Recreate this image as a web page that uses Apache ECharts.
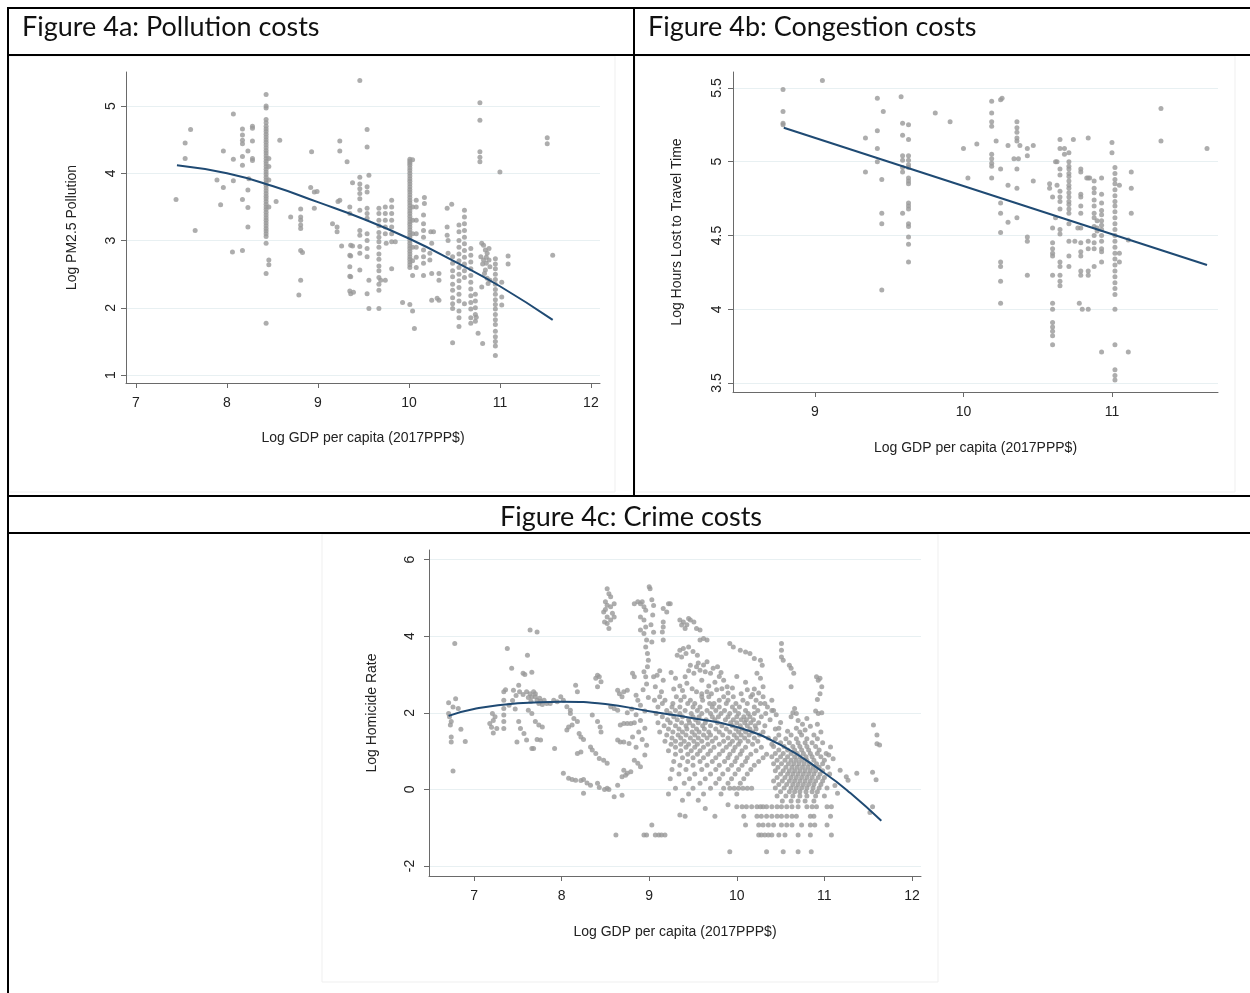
<!DOCTYPE html>
<html>
<head>
<meta charset="utf-8">
<title>Figure 4: Urban costs</title>
<script src="https://cdn.jsdelivr.net/npm/echarts@6.0.0/dist/echarts.min.js"></script>
<style>
  html, body { margin: 0; padding: 0; background: #fff; }
  #chart { width: 1250px; height: 993px; }
</style>
</head>
<body>
<div id="chart"></div>
<script>
// ---- Figure 4a: pollution (columns of cities sharing a GDP value: [x, [y...]]) ----
const pollutionCols = [
  [8.43, [5.17,5.0,4.97,4.8,4.75,4.7,4.66,4.62,4.58,4.54,4.5,4.46,4.42,4.38,4.34,4.3,4.26,4.22,4.18,4.14,4.1,4.06,4.02,3.98,3.94,3.9,3.86,3.82,3.78,3.74,3.7,3.66,3.62,3.58,3.54,3.5,3.46,3.42,3.38,3.34,3.3,3.26,3.22,3.18,3.14,3.1,3.06,2.96,2.51,1.77]],
  [8.46, [4.22,4.1,3.9,3.5,2.71,2.64]],
  [8.17, [4.66,4.57,4.49,4.44,4.25,4.12,3.61,2.85]],
  [8.81, [3.47,3.35,3.3,3.23,3.18,2.85,2.41]],
  [9.35, [3.5,3.4,2.78,2.61,2.47,2.25]],
  [9.46, [3.94,3.84,3.77,3.7,3.62,3.45,3.15,3.08,2.91,2.81,2.56]],
  [9.54, [4.65,4.39,3.8,3.72,3.48,3.4,3.33,3.1,3.0,2.88,2.76,2.21]],
  [9.67, [3.48,3.4,3.3,3.22,3.12,3.05,2.98,2.9,2.8,2.72,2.62,2.55,2.45,2.35,2.26,1.99]],
  [9.74, [3.5,3.4,3.3,3.2,3.1,2.41]],
  [9.81, [3.6,3.5,3.4,3.3,3.2,3.1,2.98,2.58]],
  [10.01, [4.21,4.18,4.15,4.12,4.08,4.04,4.0,3.96,3.92,3.88,3.84,3.8,3.76,3.72,3.68,3.64,3.6,3.56,3.52,3.48,3.44,3.4,3.36,3.32,3.28,3.24,3.2,3.16,3.12,3.08,3.04,3.0,2.96,2.92,2.88,2.84,2.8,2.76,2.72,2.68,2.64,2.6,2.05]],
  [10.04, [4.2,3.5,3.3,3.1,2.9,2.7,2.48,1.95]],
  [10.08, [3.6,3.5,3.3,3.1,2.9,2.75,2.6]],
  [10.16, [3.38,3.25,3.15,3.05,2.86,2.76,2.66,2.48]],
  [10.48, [2.76,2.66,2.55,2.46,2.35,2.26,2.15,2.06,1.99,1.48]],
  [10.55, [3.23,3.13,3.0,2.9,2.8,2.7,2.6,2.5,2.4,2.3,2.2,2.1,1.95,1.85,1.72]],
  [10.61, [3.45,3.35,3.25,3.15,3.05,2.95,2.85,2.75,2.65,2.55,2.45,2.06]],
  [10.68, [2.88,2.78,2.68,2.58,2.48,2.38,2.28,2.18,2.08,1.98,1.85,1.77]],
  [10.73, [2.2,2.1,2.0,1.9,1.8]],
  [10.78, [5.05,4.79,4.32,4.24,4.17]],
  [10.95, [2.73,2.65,2.58,2.5,2.42,2.35,2.27,2.2,2.12,2.05,1.98,1.9,1.82,1.75,1.65,1.57,1.5,1.43,1.29]]
];
const pollutionPts = [
  [7.44,3.61],[7.54,4.45],[7.54,4.22],[7.6,4.65],[7.65,3.15],[7.89,3.9],[7.93,3.53],[7.96,4.33],[7.96,3.79],
  [8.07,4.88],[8.07,4.21],[8.07,3.89],[8.06,2.83],[8.23,4.33],[8.23,3.75],[8.23,3.49],[8.23,3.2],[8.24,3.92],
  [8.28,4.7],[8.28,4.67],[8.28,4.48],[8.28,4.22],[8.28,4.19],[8.58,4.49],[8.54,3.58],[8.7,3.35],[8.83,2.82],
  [8.79,2.19],[8.93,4.32],[8.92,3.79],[8.96,3.72],[8.99,3.73],[8.96,3.48],[9.16,3.25],[9.21,3.2],[9.21,3.13],
  [9.22,3.58],[9.24,3.6],[9.24,4.48],[9.24,4.33],[9.32,4.17],[9.26,2.92],[9.36,2.21],[9.39,2.23],[9.38,3.86],
  [9.38,2.92],[9.46,5.38],[9.36,2.93],[9.36,2.77],[9.36,2.46],[9.56,3.97],[9.56,2.41],[9.56,1.99],[9.69,2.41],
  [9.75,2.96],[9.85,2.98],[9.93,2.08],[10.06,1.69],[10.17,3.64],[10.17,3.55],[10.24,3.13],[10.25,2.96],
  [10.23,2.81],[10.23,2.71],[10.25,2.51],[10.25,2.11],[10.27,3.13],[10.33,2.51],[10.33,2.41],[10.31,2.14],
  [10.33,2.11],[10.42,3.48],[10.47,3.54],[10.42,3.2],[10.42,3.08],[10.43,3.0],[10.43,2.81],[10.76,1.62],
  [10.81,1.47],[10.74,1.86],[10.8,2.96],[10.82,2.93],[10.84,2.86],[10.86,2.81],[10.79,2.76],[10.82,2.71],
  [10.85,2.66],[10.88,2.71],[10.89,2.61],[10.83,2.51],[10.86,2.44],[10.89,2.41],[10.8,2.31],[10.81,2.65],
  [10.85,2.75],[10.88,2.88],[10.84,2.56],[10.87,2.36],[11.0,4.02],[11.02,2.38],[11.02,2.16],[11.02,2.04],
  [11.09,2.77],[11.09,2.65],[11.52,4.53],[11.52,4.44],[11.58,2.78]
];
const pollutionFit = [[7.45,4.12],[8,4.0],[8.5,3.81],[9,3.57],[9.5,3.32],[10,3.03],[10.5,2.69],[11,2.32],[11.58,1.82]];

// ---- Figure 4b: congestion ----
const congestionCols = [
  [8.785, [5.49,5.34,5.26,5.25]],
  [9.42, [5.43,5.21,5.09,5.0]],
  [9.45, [4.88,4.65,4.58,4.13]],
  [9.59, [5.26,5.18,5.04,5.01,4.96,4.93,4.65]],
  [9.63, [5.25,5.15,5.04,5.01,4.98,4.96,4.89,4.87,4.85,4.72,4.7,4.68,4.58,4.56,4.49,4.44,4.32]],
  [10.19, [5.41,5.33,5.27,5.24,5.05,5.02,4.99,4.97,4.89]],
  [10.25, [4.95,4.72,4.65,4.52,4.32,4.29,4.19,4.04]],
  [10.36, [5.27,5.23,5.2,5.16,5.14,4.95,4.82,4.62]],
  [10.6, [4.76,4.55,4.45,4.41,4.38,4.36,4.23,4.04,4.0,3.91,3.88,3.85,3.82,3.76]],
  [10.65, [5.15,5.09,4.95,4.91,4.8,4.76,4.73,4.68,4.54,4.51,4.32,4.29,4.23,4.19,4.16]],
  [10.71, [5.06,5.0,4.97,4.95,4.92,4.9,4.87,4.84,4.82,4.79,4.76,4.73,4.71,4.68,4.65,4.58,4.46,4.36,4.29]],
  [10.79, [4.95,4.93,4.78,4.76,4.7,4.65,4.45,4.39,4.36,4.26,4.23]],
  [10.88, [4.87,4.82,4.79,4.74,4.7,4.65,4.62,4.56,4.5,4.45,4.41,4.29]],
  [10.93, [4.89,4.78,4.72,4.67,4.64,4.6,4.57,4.54,4.5,4.46,4.41,4.39,4.32,3.71]],
  [11.02, [4.96,4.92,4.88,4.85,4.81,4.77,4.73,4.7,4.66,4.62,4.58,4.54,4.5,4.46,4.42,4.38,4.34,4.3,4.26,4.22,4.18,4.14,4.1,4.0,3.76,3.59,3.55,3.52]]
];
const congestionPts = [
  [9.05,5.55],[9.34,5.16],[9.34,4.93],[9.46,5.34],[9.58,5.44],[9.81,5.33],[9.91,5.27],[10.0,5.09],[10.03,4.89],
  [10.09,5.12],[10.25,5.42],[10.26,5.43],[10.22,5.14],[10.3,5.11],[10.3,4.84],[10.3,4.59],[10.34,5.02],
  [10.37,5.02],[10.38,5.11],[10.43,5.09],[10.43,5.04],[10.43,4.49],[10.43,4.46],[10.43,4.23],[10.47,5.11],
  [10.47,4.87],[10.58,4.85],[10.58,4.82],[10.62,5.0],[10.63,5.0],[10.63,4.84],[10.62,4.62],[10.68,5.09],
  [10.68,5.05],[10.74,5.15],[10.75,4.46],[10.77,4.55],[10.79,4.55],[10.78,4.04],[10.8,4.0],[10.84,4.0],
  [10.84,5.16],[10.83,4.89],[10.84,4.89],[10.85,4.89],[10.84,4.46],[10.84,4.41],[10.84,4.26],[10.84,4.23],
  [10.9,4.6],[10.9,4.55],[10.9,4.53],[11.0,5.13],[11.0,5.06],[11.05,4.84],[11.05,4.38],[11.05,4.32],
  [11.11,4.47],[11.11,3.71],[11.13,4.93],[11.13,4.82],[11.13,4.65],[11.33,5.36],[11.33,5.14],[11.64,5.09]
];
const congestionFit = [[8.79,5.23],[11.64,4.30]];

// ---- Figure 4c: crime (rows of cities sharing a homicide value: [y, [x...]]) ----
const crimeRows = [
  [2.42, [9.12,9.31,9.4,9.6,9.68,9.85,9.96,10.16,10.3]],
  [2.33, [9.06,9.18,9.36,9.47,9.61,9.8,9.9,10.07,10.22,10.4]],
  [2.24, [9.15,9.27,9.44,9.52,9.69,9.74,9.88,9.99,10.12,10.27]],
  [2.15, [9.1,9.26,9.35,9.5,9.58,9.72,9.8,9.95,10.03,10.2,10.35]],
  [2.06, [9.2,9.3,9.41,9.55,9.66,9.76,9.86,9.98,10.1,10.24,10.42]],
  [1.98, [9.08,9.24,9.35,9.48,9.6,9.7,9.82,9.92,10.02,10.13,10.2,10.33]],
  [1.9, [9.15,9.28,9.38,9.5,9.57,9.72,9.79,9.9,10.0,10.08,10.15,10.28]],
  [1.82, [9.21,9.32,9.45,9.53,9.65,9.75,9.87,9.96,10.05,10.11,10.19,10.38]],
  [1.74, [9.1,9.24,9.37,9.46,9.56,9.64,9.78,9.93,10.0,10.09,10.16,10.25]],
  [1.66, [9.17,9.3,9.42,9.5,9.61,9.7,9.83,9.95,10.04,10.12,10.21,10.32]],
  [1.58, [9.22,9.34,9.43,9.54,9.63,9.76,9.88,9.99,10.06,10.15,10.22,10.44]],
  [1.5, [9.12,9.27,9.38,9.49,9.57,9.68,9.8,9.92,10.02,10.1,10.18,10.3]],
  [1.42, [9.2,9.33,9.42,9.52,9.62,9.7,9.84,9.97,10.05,10.14,10.26]],
  [1.34, [9.26,9.36,9.47,9.56,9.66,9.76,9.9,10.0,10.09,10.2,10.36]],
  [1.26, [9.18,9.3,9.4,9.51,9.6,9.72,9.85,9.95,10.04,10.13,10.24]],
  [1.18, [9.25,9.36,9.45,9.55,9.67,9.8,9.92,10.02,10.18,10.4]],
  [1.1, [9.3,9.42,9.52,9.62,9.74,9.88,9.98,10.1,10.28]],
  [1.01, [9.22,9.36,9.48,9.58,9.7,9.84,9.96,10.06,10.22]],
  [0.92, [9.3,9.44,9.55,9.67,9.8,9.92,10.04,10.16,10.34]],
  [0.83, [9.38,9.5,9.62,9.76,9.9,10.0,10.12,10.3]],
  [0.73, [9.28,9.44,9.58,9.72,9.86,9.98,10.1,10.25]],
  [0.63, [9.35,9.5,9.66,9.8,9.94,10.06,10.2]],
  [0.52, [9.26,9.42,9.6,9.76,9.9,10.02,10.16]],
  [0.4, [9.34,9.52,9.7,9.84,9.98,10.12]],
  [0.28, [9.24,9.46,9.64,9.8,9.94,10.08]],
  [0.16, [9.4,9.58,9.76,9.9,10.04]],
  [0.03, [9.3,9.5,9.7,9.85,9.92,9.97,10.02,10.07,10.12,10.17]],
  [-0.12, [9.22,9.45,9.62,9.82,10.0]],
  [-0.28, [9.38,9.56]],
  [1.42, [10.48,10.62,10.74,10.88]],
  [1.32, [10.44,10.56,10.68,10.8,10.92]],
  [1.22, [10.5,10.6,10.7,10.78,10.86,10.98]],
  [1.12, [10.42,10.54,10.64,10.72,10.8,10.9]],
  [1.03, [10.48,10.58,10.66,10.74,10.82,10.94]],
  [0.94, [10.44,10.53,10.62,10.69,10.76,10.84,10.92,11.02]],
  [0.85, [10.4,10.5,10.58,10.66,10.72,10.79,10.86,10.96]],
  [0.76, [10.46,10.55,10.62,10.68,10.74,10.8,10.88,11.0]],
  [0.67, [10.42,10.51,10.59,10.65,10.71,10.77,10.83,10.91,10.98]],
  [0.58, [10.47,10.56,10.63,10.69,10.75,10.81,10.87,10.94,11.04]],
  [0.49, [10.44,10.53,10.6,10.66,10.72,10.78,10.84,10.9,10.98]],
  [0.4, [10.5,10.58,10.64,10.7,10.76,10.82,10.88,10.95,11.06]],
  [0.31, [10.46,10.55,10.62,10.68,10.74,10.8,10.86,10.93,11.0]],
  [0.22, [10.42,10.52,10.6,10.66,10.72,10.78,10.84,10.9,10.98]],
  [0.13, [10.48,10.57,10.64,10.7,10.76,10.82,10.88,10.96]],
  [0.04, [10.44,10.54,10.62,10.68,10.74,10.8,10.87,10.94,11.03]],
  [-0.06, [10.5,10.6,10.66,10.72,10.79,10.86,10.92]],
  [-0.17, [10.46,10.56,10.64,10.72,10.8,10.9,11.0]],
  [-0.3, [10.52,10.62,10.7,10.78,10.88]],
  [-0.45, [10.0,10.06,10.11,10.17,10.23,10.27,10.3,10.34,10.4,10.46,10.51,10.57,10.63,10.7,10.8,10.86,10.91,11.03,11.08]],
  [-0.7, [10.08,10.23,10.28,10.34,10.4,10.46,10.51,10.57,10.63,10.68,10.84,10.88,11.07]],
  [-0.93, [9.03,10.1,10.25,10.3,10.36,10.42,10.51,10.57,10.63,10.74,10.84,10.89,11.03]],
  [-1.19, [8.62,8.94,8.97,9.07,9.11,9.14,9.18,10.25,10.28,10.32,10.36,10.4,10.48,10.55,10.7,10.84,11.08]],
  [-1.63, [9.92,10.34,10.53,10.7,10.85]]
];
const crimePts = [
  [6.71,2.26],[6.71,1.98],[6.72,1.9],[6.74,1.77],[6.74,1.37],[6.74,1.24],[6.76,0.48],[6.78,3.81],[6.79,2.37],
  [6.82,2.11],[6.85,1.57],[6.9,1.25],[6.73,1.68],[6.76,2.15],[7.18,1.72],[7.21,1.98],[7.22,1.8],[7.26,1.59],
  [7.22,1.47],[7.2,1.62],[7.24,1.9],[7.34,2.55],[7.34,2.33],[7.34,2.11],[7.34,1.94],[7.34,1.77],[7.34,1.59],
  [7.36,2.6],[7.38,3.68],[7.43,3.16],[7.45,2.59],[7.51,2.72],[7.49,1.24],[7.51,1.77],[7.53,1.59],[7.57,1.46],
  [7.6,1.29],[7.56,3.03],[7.61,3.5],[7.58,3.0],[7.6,2.55],[7.64,2.5],[7.66,2.42],[7.68,2.55],[7.7,2.42],
  [7.72,2.33],[7.74,2.24],[7.76,2.3],[7.8,2.33],[7.83,2.24],[7.87,2.24],[7.91,2.33],[7.95,2.29],[7.62,2.4],
  [7.65,2.3],[7.7,2.5],[7.75,2.38],[7.78,2.22],[7.56,2.48],[7.52,2.55],[7.48,2.45],[7.44,2.32],[7.4,2.2],
  [7.47,2.1],[7.66,3.06],[7.62,2.07],[7.66,1.98],[7.64,4.16],[7.72,4.11],[7.66,1.07],[7.68,1.07],[7.7,1.77],
  [7.74,1.68],[7.78,1.63],[7.72,1.3],[7.76,1.29],[7.92,1.07],[7.99,2.42],[8.02,2.33],[8.06,2.16],[8.1,2.07],
  [8.1,1.98],[8.14,1.85],[8.18,1.77],[8.02,0.42],[8.08,0.29],[8.12,0.26],[8.16,0.24],[8.22,0.23],[8.25,0.26],
  [8.29,0.17],[8.25,-0.1],[8.06,1.55],[8.08,1.63],[8.12,1.68],[8.16,2.72],[8.18,2.55],[8.2,1.46],[8.22,1.37],
  [8.25,1.3],[8.33,1.11],[8.35,1.03],[8.39,0.94],[8.43,0.81],[8.48,0.76],[8.52,0.68],[8.18,0.94],[8.22,0.98],
  [8.33,0.11],[8.41,0.16],[8.43,0.05],[8.49,0.0],[8.52,0.03],[8.54,0.0],[8.6,-0.19],[8.64,0.11],[8.39,2.9],
  [8.41,2.98],[8.43,2.94],[8.45,2.81],[8.41,2.68],[8.35,1.94],[8.41,1.77],[8.44,1.63],[8.45,1.5],[8.52,5.24],
  [8.54,5.11],[8.56,5.03],[8.5,4.9],[8.52,4.81],[8.56,4.77],[8.6,4.85],[8.48,4.63],[8.52,4.5],[8.56,4.42],
  [8.52,4.33],[8.6,4.5],[8.49,4.37],[8.54,4.2],[8.58,4.6],[8.5,4.7],[8.56,2.16],[8.6,2.11],[8.64,2.07],
  [8.66,2.5],[8.69,2.42],[8.64,2.59],[8.71,2.55],[8.75,2.59],[8.67,1.68],[8.71,1.72],[8.75,1.72],[8.79,1.72],
  [8.83,1.74],[8.64,1.29],[8.67,1.24],[8.71,1.24],[8.77,1.2],[8.81,1.37],[8.71,0.5],[8.75,0.42],[8.79,0.46],
  [8.69,0.33],[8.73,0.37],[8.69,-0.15],[8.81,3.03],[8.83,2.94],[8.85,2.46],[8.87,2.33],[8.83,0.76],[8.87,0.68],
  [8.9,0.59],[8.83,4.85],[8.87,4.9],[8.9,4.85],[8.92,4.9],[8.94,4.77],[8.96,4.68],[8.9,4.5],[8.94,4.42],
  [8.96,4.24],[8.9,4.16],[8.94,4.07],[8.97,3.9],[8.96,3.72],[8.98,3.55],[8.99,3.37],[8.98,3.2],[8.94,3.07],
  [8.96,2.94],[9.0,5.29],[8.75,2.0],[8.8,2.1],[8.85,1.95],[8.9,2.2],[8.95,2.05],[8.9,1.8],[8.95,1.6],[8.88,1.5],
  [8.92,1.3],[8.97,1.15],[8.85,1.1],[8.95,0.9],[8.99,2.4],[8.93,2.6],[8.97,2.75],
  [9.01,5.24],[9.03,4.95],[9.05,4.8],[9.04,4.55],[9.02,4.3],[9.05,4.1],[9.03,3.85],[9.16,4.72],[9.2,4.63],
  [9.22,4.85],[9.24,4.85],[9.16,4.37],[9.16,4.24],[9.15,4.11],[9.16,3.9],[9.35,4.42],[9.39,4.37],[9.47,4.42],
  [9.51,4.37],[9.37,4.29],[9.41,4.2],[9.54,4.2],[9.58,4.16],[9.62,3.94],[9.66,3.9],[9.58,3.9],[9.45,4.46],
  [9.43,4.3],[9.35,3.63],[9.39,3.68],[9.45,3.72],[9.32,3.5],[9.37,3.46],[9.42,3.55],[9.5,3.6],[9.55,3.5],
  [9.05,2.94],[9.09,2.98],[9.16,2.85],[9.07,2.68],[9.14,2.55],[9.47,3.24],[9.54,3.2],[9.58,3.11],[9.66,3.33],
  [9.64,3.07],[9.7,3.03],[9.73,3.16],[9.51,3.03],[9.41,2.94],[9.43,2.77],[9.49,2.63],[9.54,2.55],[9.6,2.5],
  [9.66,2.55],[9.71,2.5],[9.77,2.6],[9.83,2.63],[9.89,2.68],[9.3,2.9],[9.35,2.7],[9.38,2.58],[9.28,2.62],
  [9.6,2.85],[9.68,2.7],[9.75,2.8],[9.8,2.95],[9.85,2.85],[9.78,3.2],[9.82,3.05],[9.9,2.52],[9.95,2.65],
  [9.56,3.3],[9.62,3.25],[9.45,3.1],[9.25,3.05],[9.12,3.1],[9.92,3.81],[9.96,3.72],[10.04,3.63],[10.1,3.59],
  [10.15,3.55],[10.2,3.42],[10.27,3.37],[10.29,3.24],[10.23,3.03],[10.27,2.9],[10.3,2.68],[10.32,2.24],
  [10.05,2.5],[10.12,2.6],[10.2,2.62],[10.18,2.48],[10.25,2.52],[10.1,2.8],[10.0,2.95],[10.51,3.81],
  [10.51,3.63],[10.51,3.46],[10.53,3.37],[10.6,3.24],[10.62,3.16],[10.65,3.03],[10.62,2.68],[10.66,2.11],
  [10.68,1.98],[10.91,2.94],[10.93,2.85],[10.95,2.9],[10.97,2.68],[10.9,2.05],[10.93,1.98],[10.97,2.0],
  [10.95,2.5],[10.92,2.35],[10.92,1.7],[10.96,1.5],[10.62,1.9],[10.7,1.8],[10.75,1.7],[10.8,1.85],[10.68,1.6],
  [10.78,1.55],[10.84,1.65],[10.72,1.5],[10.58,1.52],[10.64,2.0],[10.4,2.06],[10.45,1.95],[10.5,1.75],
  [10.48,1.6],[11.07,1.11],[11.18,0.5],[11.25,0.33],[11.27,0.24],[11.37,0.42],[11.56,1.68],[11.6,1.42],
  [11.6,1.19],[11.63,1.16],[11.55,0.45],[11.59,0.25],[11.52,-0.6],[11.55,-0.45],[11.1,0.8],[11.12,0.1],
  [11.15,-0.1],[11.05,0.9],[9.35,-0.67],[9.41,-0.7],[9.75,-0.7],[9.64,-0.5],[9.9,-0.4]
];
const crimeFit = [[6.71,1.92],[7,2.1],[7.5,2.25],[8,2.29],[8.5,2.23],[9,2.04],[9.5,1.86],[10,1.63],[10.5,1.16],[11,0.43],[11.3,-0.1],[11.65,-0.82]];

// tick labels
const ticksA_x = [7, 8, 9, 10, 11, 12];
const ticksA_y = [1, 2, 3, 4, 5];
const ticksB_x = [9, 10, 11];
const ticksB_y = [3.5, 4, 4.5, 5, 5.5];
const ticksC_x = [7, 8, 9, 10, 11, 12];
const ticksC_y = [-2, 0, 2, 4, 6];

const gdpName = 'Log GDP per capita (2017PPP$)';
const dotColor = '#999999';
const fitColor = '#1f4a73';
const axisColor = '#6a6a6a';
const font = 'Liberation Sans, Arial, Helvetica, sans-serif';

const fromCols = cols => cols.flatMap(([x, ys]) => ys.map(y => [x, y]));
const fromRows = rows => rows.flatMap(([y, xs]) => xs.map(x => [x, y]));

function xAxisFor(i, min, max, ticks, gap) {
  return {
    type: 'value', gridIndex: i, min: min, max: max,
    name: gdpName, nameLocation: 'middle', nameGap: gap,
    nameTextStyle: { fontFamily: font, fontSize: 14, color: '#222' },
    axisLine: { show: true, onZero: false, lineStyle: { color: axisColor, width: 1 } },
    axisTick: { show: true, length: 5, customValues: ticks, lineStyle: { color: axisColor } },
    axisLabel: { customValues: ticks, margin: 13, fontFamily: font, fontSize: 14, color: '#222' },
    splitLine: { show: false }
  };
}

function yAxisFor(i, name, min, max, ticks, gap, margin) {
  return {
    type: 'value', gridIndex: i, min: min, max: max,
    name: name, nameLocation: 'middle', nameGap: gap, nameRotate: 90,
    nameTextStyle: { fontFamily: font, fontSize: 14, color: '#222' },
    axisLine: { show: true, onZero: false, lineStyle: { color: axisColor, width: 1 } },
    axisTick: { show: true, length: 5, customValues: ticks, lineStyle: { color: axisColor } },
    axisLabel: { customValues: ticks, rotate: 90, margin: margin, fontFamily: font, fontSize: 14, color: '#222' },
    splitLine: { show: true, lineStyle: { color: '#e8f0f2', width: 1 } }
  };
}

function scatterFor(i, data) {
  return { type: 'scatter', xAxisIndex: i, yAxisIndex: i, data: data, symbolSize: 5,
           itemStyle: { color: dotColor }, silent: true };
}
function fitFor(i, data) {
  return { type: 'line', xAxisIndex: i, yAxisIndex: i, data: data, smooth: true, showSymbol: false,
           lineStyle: { color: fitColor, width: 2 }, z: 5, silent: true };
}

function hline(y, x1, x2) {
  return { type: 'line', shape: { x1: x1, y1: y, x2: x2, y2: y }, style: { stroke: '#000', lineWidth: 2 } };
}
function vline(x, y1, y2) {
  return { type: 'line', shape: { x1: x, y1: y1, x2: x, y2: y2 }, style: { stroke: '#000', lineWidth: 2 } };
}
function frame(x, y, w, h) {
  return { type: 'rect', shape: { x: x, y: y, width: w, height: h }, style: { fill: 'none', stroke: '#efefef', lineWidth: 1 }, z: -1 };
}
function caption(text, x, y, align) {
  return { type: 'text', x: x, y: y,
           style: { text: text, fontFamily: 'Lato, "Open Sans", sans-serif', fontSize: 27, fill: '#111',
                    align: align, verticalAlign: 'middle' } };
}

const chart = echarts.init(document.getElementById('chart'));
chart.setOption({
  animation: false,
  backgroundColor: '#fff',
  grid: [
    { left: 126, top: 72, width: 474, height: 311 },
    { left: 733, top: 72, width: 485, height: 320 },
    { left: 429, top: 550, width: 492, height: 326 }
  ],
  xAxis: [
    xAxisFor(0, 6.89, 12.1, ticksA_x, 48),
    xAxisFor(1, 8.448, 11.714, ticksB_x, 49),
    xAxisFor(2, 6.486, 12.103, ticksC_x, 49)
  ],
  yAxis: [
    yAxisFor(0, 'Log PM2.5 Pollution', 0.881, 5.506, ticksA_y, 47, 8),
    yAxisFor(1, 'Log Hours Lost to Travel Time', 3.439, 5.608, ticksB_y, 49, 9),
    yAxisFor(2, 'Log Homicide Rate', -2.26, 6.25, ticksC_y, 50, 12)
  ],
  series: [
    scatterFor(0, fromCols(pollutionCols).concat(pollutionPts)),
    fitFor(0, pollutionFit),
    scatterFor(1, fromCols(congestionCols).concat(congestionPts)),
    fitFor(1, congestionFit),
    scatterFor(2, fromRows(crimeRows).concat(crimePts)),
    fitFor(2, crimeFit)
  ],
  graphic: [
    frame(9, 56, 606, 436),
    frame(635, 56, 600, 436),
    frame(322, 534, 616, 448),
    hline(8, 7, 1250),
    hline(55, 7, 1250),
    hline(496, 7, 1250),
    hline(533, 7, 1250),
    vline(8, 7, 993),
    vline(634, 8, 496),
    caption('Figure 4a: Pollution costs', 22, 27, 'left'),
    caption('Figure 4b: Congestion costs', 648, 27, 'left'),
    caption('Figure 4c: Crime costs', 631, 517, 'center')
  ]
});
</script>
</body>
</html>
